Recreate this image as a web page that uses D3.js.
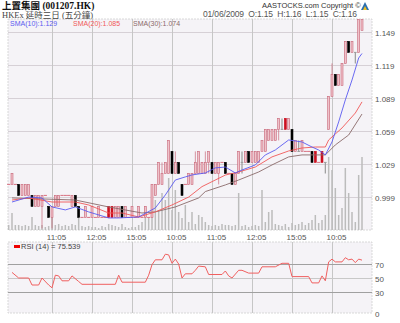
<!DOCTYPE html>
<html><head><meta charset="utf-8">
<script src="https://cdn.jsdelivr.net/npm/d3@7"></script>
<style>body{margin:0;background:#fff}svg{display:block}</style>
</head><body><svg id="c" width="400" height="323"></svg>
<script>
// ---- data ----
const openP  = [1.01,1.01,1.01,1.01,1.00,1.00,1.00,1.00,0.99,0.99, 0.99,1.00,0.99,0.98,0.99,0.99,1.00,1.00,1.00,0.99, 1.00,0.99,0.98,0.98,0.98,0.98,0.98,0.98,0.98,0.98, 0.99,0.99,0.98,0.98,0.99,0.98,0.98,0.98,0.98,0.98, 0.98,0.98,0.98,0.98,1.00,1.01,1.01,1.02,1.02,1.04, 1.02,1.03,1.01,1.01,1.01,1.01,1.02,1.02,1.02,1.02, 1.03,1.03,1.02,1.02,1.03,1.03,1.02,1.02,1.01,1.02, 1.03,1.03,1.04,1.03,1.03,1.03,1.04,1.04,1.05,1.05, 1.05,1.06,1.06,1.07,1.06,1.06,1.04,1.04,1.04,1.04, 1.04,1.04,1.04,1.03,1.04,1.03,1.06,1.09,1.11,1.10, 1.10,1.12,1.14,1.13,1.13,1.13,1.15];
const highP  = [1.01,1.02,1.01,1.01,1.01,1.01,1.01,1.00,1.00,1.00, 1.00,1.00,0.99,0.99,1.00,1.00,1.00,1.00,1.00,1.00, 1.00,0.99,0.98,0.99,0.98,0.99,0.98,0.99,0.98,0.98, 0.99,0.99,0.99,0.99,0.99,0.99,0.98,0.99,0.98,0.99, 0.98,0.99,0.98,1.01,1.01,1.03,1.03,1.03,1.05,1.04, 1.04,1.03,1.01,1.01,1.02,1.02,1.04,1.04,1.03,1.04, 1.04,1.03,1.03,1.03,1.03,1.03,1.02,1.02,1.02,1.04, 1.04,1.04,1.04,1.04,1.04,1.04,1.05,1.06,1.06,1.06, 1.06,1.07,1.07,1.07,1.07,1.06,1.05,1.05,1.05,1.04, 1.04,1.04,1.04,1.03,1.04,1.03,1.09,1.12,1.11,1.11, 1.12,1.14,1.14,1.14,1.13,1.16,1.16];
const lowP   = [1.01,1.01,1.01,1.00,1.00,1.00,1.00,0.99,0.99,0.99, 0.97,1.00,0.98,0.97,0.99,0.99,1.00,1.00,1.00,0.99, 0.99,0.98,0.98,0.98,0.98,0.98,0.98,0.98,0.98,0.98, 0.98,0.98,0.98,0.98,0.98,0.98,0.98,0.98,0.98,0.98, 0.98,0.98,0.98,0.98,1.00,1.01,1.01,1.02,1.02,1.02, 1.02,1.02,1.00,1.01,1.01,1.01,1.02,1.02,1.02,1.02, 1.02,1.02,1.02,1.01,1.03,1.02,1.02,1.01,1.01,1.02, 1.02,1.03,1.03,1.03,1.03,1.03,1.04,1.04,1.05,1.05, 1.05,1.05,1.06,1.06,1.06,1.04,1.04,1.04,1.04,1.04, 1.04,1.03,1.03,1.03,1.03,1.02,1.06,1.09,1.10,1.10, 1.10,1.12,1.13,1.13,1.12,1.13,1.15];
const closeP = [1.01,1.02,1.01,1.00,1.01,1.01,1.01,0.99,1.00,1.00, 1.00,1.00,0.98,0.99,1.00,1.00,1.00,1.00,1.00,1.00, 0.99,0.98,0.98,0.99,0.98,0.99,0.98,0.99,0.98,0.98, 0.98,0.98,0.99,0.99,0.98,0.99,0.98,0.99,0.98,0.99, 0.98,0.99,0.98,1.01,1.01,1.03,1.02,1.03,1.05,1.02, 1.03,1.02,1.00,1.01,1.02,1.02,1.03,1.04,1.03,1.03, 1.04,1.02,1.03,1.03,1.03,1.02,1.02,1.01,1.02,1.04, 1.03,1.04,1.03,1.04,1.04,1.04,1.05,1.06,1.06,1.06, 1.06,1.07,1.06,1.06,1.07,1.04,1.05,1.04,1.05,1.04, 1.04,1.03,1.03,1.03,1.03,1.03,1.09,1.11,1.10,1.11, 1.12,1.14,1.13,1.14,1.13,1.16,1.16];
const volume = [5,17,5,5,4,5,4,13,5,4, 5,3,4,15,5,6,4,5,4,6, 5,12,4,3,4,3,3,2,4,3, 6,5,4,3,6,3,2,3,3,5, 8,22,12,28,30,20,37,30,52,20, 40,18,12,25,8,18,6,15,13,8, 5,4,5,4,6,5,5,4,5,37, 4,5,3,4,5,4,40,8,18,20, 6,5,4,6,3,7,5,6,8,5, 7,10,15,7,10,15,73,60,42,15, 22,62,37,18,8,55,73];
const sma10 = [[1,0.994],[6,0.9985],[10,0.9977],[13,0.9895],[17,0.9868],[20,0.9895],[24,0.985],[30,0.9795],[33,0.9795],[39,0.9804],[44,0.9886],[47,1.0004],[50,1.014],[53,1.0168],[55,1.0186],[59,1.0204],[62,1.025],[65,1.0258],[68,1.0204],[70,1.0231],[74,1.0277],[77,1.0368],[80,1.0413],[84,1.0504],[88,1.0486],[91,1.044],[93,1.0413],[95,1.0368],[97,1.0486],[99,1.0668],[101,1.0868],[103,1.1049],[105,1.1249],[106,1.129]];
const sma20 = [[1,0.9958],[6,0.9977],[13,0.994],[20,0.994],[24,0.9913],[30,0.984],[34,0.984],[39,0.9804],[44,0.985],[49,0.9913],[54,0.9985],[58,1.008],[65,1.0185],[69,1.0213],[74,1.0258],[79,1.035],[84,1.0404],[88,1.0431],[92,1.044],[95,1.044],[96,1.0504],[100,1.0613],[104,1.0749],[106,1.085]];
const sma30 = [[1,0.9977],[20,0.9958],[30,0.9895],[40,0.984],[44,0.985],[50,0.9895],[57,0.9977],[59,1.0035],[65,1.0095],[69,1.014],[75,1.0213],[79,1.0277],[84,1.035],[88,1.0368],[92,1.0368],[95,1.0368],[98,1.0459],[102,1.0549],[106,1.074]];
const rsi = [[1,58],[3,50],[6,50],[7,40],[9,40],[10,50],[12,40],[13,36],[14,54],[15,53],[16,46],[18,46],[19,53],[21,45],[22,41],[32,41],[33,54],[34,44],[41,44],[42,54],[43,69],[44,76],[46,76],[47,84],[48,83],[49,71],[50,77],[51,70],[52,50],[53,56],[55,56],[56,61],[57,67],[59,66],[60,55],[64,55],[65,60],[66,53],[67,50],[69,61],[70,61],[72,57],[75,57],[76,66],[80,66],[82,71],[84,71],[85,52],[90,52],[91,43],[93,43],[94,53],[95,46],[96,73],[97,77],[98,73],[100,73],[101,79],[102,76],[103,77],[104,72],[105,77],[106,75.5]];
const priceTicks = [0.999,1.029,1.059,1.089,1.119,1.149];
const timeTickIdx = [13,25,37,49,61,73,85,97];
const timeTickLabels = ["11:05","12:05","15:05","10:05","11:05","12:05","15:05","10:05"];
const rsiTicks = [0,30,50,70];
const title = "上置集團 (001207.HK)";
const subtitle = "HKEx 延時三日 (五分鐘)";
const lastBar = "01/06/2009  O:1.15  H:1.16  L:1.15  C:1.16";
const smaLegend = [["SMA(10):1.129","#5a5af0"],["SMA(20):1.085","#f05858"],["SMA(30):1.074","#8a6a6a"]];

// ---- layout ----
const svg = d3.select("#c");
const L = 8, R = 372, T = 19, B = 230, RT = 242, RB = 313;
const x = d3.scaleLinear().domain([13, 97]).range([52, 332]);
const y = d3.scaleLinear().domain([0.999, 1.149]).range([196.5, 31.5]);
const yv = d3.scaleLinear().domain([0, 100]).range([B, B - 100]);
const yr = d3.scaleLinear().domain([0, 100]).range([RB, RB - 70]);
const sans = "Liberation Sans, Arial, sans-serif";
const serifCjk = "Liberation Serif, Noto Sans CJK TC, serif";

svg.append("rect").attr("width",400).attr("height",323).attr("fill","#fff");
[[T,B],[RT,RB]].forEach(([a,b])=>{
  svg.append("rect").attr("x",L).attr("y",a).attr("width",R-L).attr("height",b-a)
    .attr("fill","#f5f3f7").attr("stroke","#cfcfcf").attr("stroke-width",0.8).attr("stroke-dasharray","2,1");
});
const g = svg.append("g");
priceTicks.forEach(p=>{
  g.append("line").attr("x1",L).attr("x2",R).attr("y1",Math.round(y(p))+0.5).attr("y2",Math.round(y(p))+0.5)
    .attr("stroke","#d6d0d6").attr("stroke-width",1);
  svg.append("text").attr("x",375).attr("y",Math.round(y(p))+3.5).text(p.toFixed(3))
    .attr("font-family",sans).attr("font-size",8).attr("fill","#555");
});
timeTickIdx.forEach((t,k)=>{
  const xx = Math.round(x(t))+0.5;
  g.append("line").attr("x1",xx).attr("x2",xx).attr("y1",T).attr("y2",B).attr("stroke","#c6c6c6").attr("stroke-width",1);
  g.append("line").attr("x1",xx).attr("x2",xx).attr("y1",RT).attr("y2",RB).attr("stroke","#c6c6c6").attr("stroke-width",1);
  svg.append("text").attr("x",xx+4).attr("y",240).attr("text-anchor","middle").text(timeTickLabels[k])
    .attr("font-family",sans).attr("font-size",8).attr("fill","#555");
});
rsiTicks.forEach(r=>{
  if (r>0) g.append("line").attr("x1",L).attr("x2",R).attr("y1",Math.round(yr(r))+0.5).attr("y2",Math.round(yr(r))+0.5)
    .attr("stroke", r===50?"#c8c8c8":"#a0a0a0").attr("stroke-width",1);
  svg.append("text").attr("x",375).attr("y",Math.round(yr(r))+3.5).text(r)
    .attr("font-family",sans).attr("font-size",8).attr("fill","#555");
});

// volume
svg.append("g").selectAll("rect").data(volume).join("rect")
  .attr("x",(d,i)=>x(i)-0.75).attr("width",1.5)
  .attr("y",d=>yv(d)).attr("height",d=>B-yv(d)).attr("fill","#bcbcbc");

// candles
const cg = svg.append("g");
openP.forEach((o,i)=>{
  const c = closeP[i], h = highP[i], l = lowP[i], pc = i>0?closeP[i-1]:c;
  const cx = x(i), w = 2.0;
  if (o===c) {
    if (h===l) {
      cg.append("line").attr("x1",cx-1.6).attr("x2",cx+1.6).attr("y1",y(c)).attr("y2",y(c)).attr("stroke","#d87080").attr("stroke-width",1);
    } else {
      cg.append("line").attr("x1",cx).attr("x2",cx).attr("y1",y(h)).attr("y2",y(l)).attr("stroke","#9a9a9a").attr("stroke-width",1.2);
      cg.append("line").attr("x1",cx-1.3).attr("x2",cx+1.3).attr("y1",y(c)).attr("y2",y(c)).attr("stroke","#9a9a9a").attr("stroke-width",1);
    }
    return;
  }
  const up = c>o;
  const fill = up ? "#efc2ca" : (c>=pc?"#cc1020":"#000");
  const stroke = up ? "#c8687a" : (c>=pc?"#cc1020":"#000");
  cg.append("line").attr("x1",cx).attr("x2",cx).attr("y1",y(h)).attr("y2",y(l)).attr("stroke",stroke).attr("stroke-width",0.7);
  const top = y(Math.max(o,c)), bot = y(Math.min(o,c));
  cg.append("rect").attr("x",cx-w/2).attr("y",top).attr("width",w).attr("height",bot-top)
    .attr("fill",fill).attr("stroke",stroke).attr("stroke-width",0.6);
});

// SMA lines
const line = d3.line().x(d=>x(d[0])).y(d=>y(d[1]));
[[sma30,"#8a6a6a"],[sma20,"#f05858"],[sma10,"#5a5af0"]].forEach(([d,col])=>{
  svg.append("path").attr("d",line(d)).attr("fill","none").attr("stroke",col).attr("stroke-width",0.9);
});
const rline = d3.line().x(d=>x(d[0])).y(d=>yr(d[1]));
svg.append("path").attr("d",rline(rsi)).attr("fill","none").attr("stroke","#f06060").attr("stroke-width",1);

// texts
svg.append("text").attr("x",2).attr("y",9).text(title)
  .attr("font-family",serifCjk).attr("font-weight","bold").attr("font-size",9.5).attr("fill","#111");
svg.append("text").attr("x",2).attr("y",17.5).text(subtitle)
  .attr("font-family",serifCjk).attr("font-size",8.5).attr("fill","#444");
svg.append("text").attr("x",262).attr("y",8).text("AASTOCKS.com Copyright ©")
  .attr("font-family",sans).attr("font-size",7.5).attr("fill","#333");
svg.append("path").attr("d","M361,10 L365,2 L369,10 Z").attr("fill","#2a6fb0");
svg.append("path").attr("d","M363,10 L365,6 L367,10 Z").attr("fill","#f0c020");
svg.append("text").attr("x",203).attr("y",17).text(lastBar)
  .attr("textLength",154).attr("lengthAdjust","spacing")
  .attr("font-family",sans).attr("font-size",8.5).attr("fill","#555").style("white-space","pre");
const lx = [10,73,133];
smaLegend.forEach(([t,col],k)=>{
  svg.append("text").attr("x",lx[k]).attr("y",25.5).text(t).attr("font-family",sans).attr("font-size",7).attr("fill",col);
});
svg.append("rect").attr("x",14).attr("y",245).attr("width",6).attr("height",3).attr("fill","#e00");
svg.append("text").attr("x",21).attr("y",249).text("RSI (14) = 75.539").attr("font-family",sans).attr("font-size",7.5).attr("fill","#444");
</script></body></html>
